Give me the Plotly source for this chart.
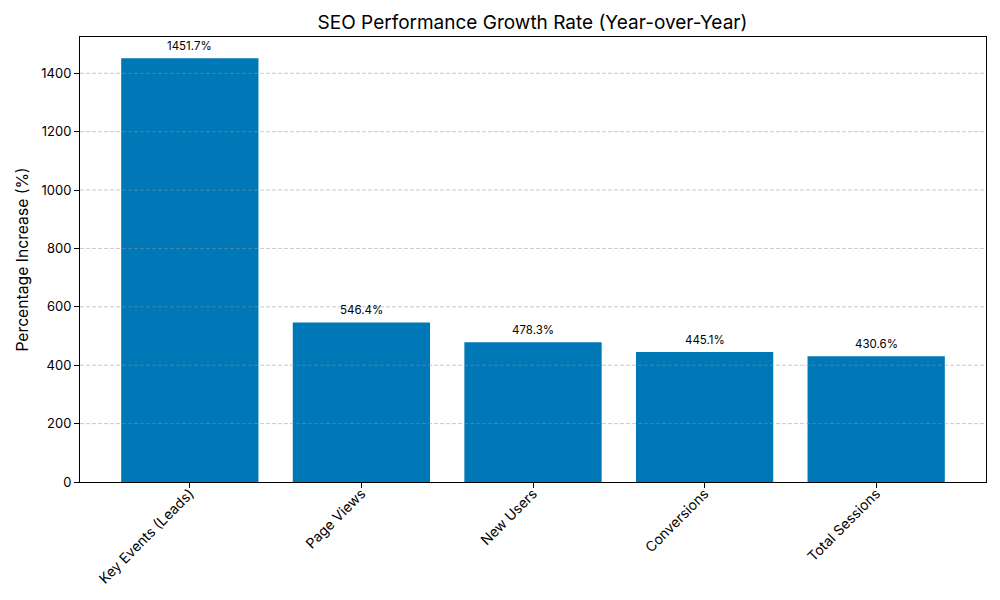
import plotly.graph_objects as go

categories = ["Key Events (Leads)", "Page Views", "New Users", "Conversions", "Total Sessions"]
values = [1451.7, 546.4, 478.3, 445.1, 430.6]
y_ticks = [0, 200, 400, 600, 800, 1000, 1200, 1400]
labels = [f"{v:.1f}%" for v in values]

FONT = "Inter"
x_idx = list(range(len(categories)))

fig = go.Figure()
fig.add_trace(go.Bar(
    x=x_idx, y=values, width=0.8, marker=dict(color="#0077B6", line=dict(width=0)),
    hoverinfo="skip",
))

for xi, v, t in zip(x_idx, values, labels):
    fig.add_annotation(x=xi, y=v, text=t, showarrow=False, yanchor="bottom",
                       yshift=3, font=dict(family=FONT, size=11.5, color="black"))

for t in y_ticks[1:]:
    fig.add_shape(type="line", xref="paper", x0=0, x1=1, yref="y", y0=t, y1=t,
                  line=dict(color="rgba(150,150,150,0.5)", width=1, dash="4px,2px"), layer="above")

fig.update_layout(
    width=1000, height=600,
    margin=dict(l=72, r=22, t=29, b=126, autoexpand=False),
    plot_bgcolor="white", paper_bgcolor="white",
    showlegend=False,
    title=dict(text="SEO Performance Growth Rate (Year-over-Year)", x=(532.5 - 8) / 1000, xanchor="center",
               y=1 - 14 / 600, yanchor="middle", font=dict(family=FONT, size=19, color="black")),
    font=dict(family=FONT, color="black"),
)
fig.update_xaxes(
    range=[-0.64, 4.64], tickmode="array", tickvals=x_idx, ticktext=categories,
    tickangle=-45, ticks="outside", ticklen=5, tickcolor="black",
    showline=True, linecolor="black", linewidth=1, mirror=True, showgrid=False,
    tickfont=dict(family=FONT, size=14, color="black"), zeroline=False,
    automargin=False, ticklabelstandoff=-8,
)
fig.update_yaxes(
    range=[0, 1524.3], tickmode="array", tickvals=y_ticks,
    ticks="outside", ticklen=5, tickcolor="black",
    showline=True, linecolor="black", linewidth=1, mirror=True, showgrid=False,
    tickfont=dict(family=FONT, size=13, color="black"), zeroline=False, automargin=False,
    title=dict(text="Percentage Increase (%)", font=dict(family=FONT, size=15.7, color="black"), standoff=8),
)

fig.write_html("out.html")
